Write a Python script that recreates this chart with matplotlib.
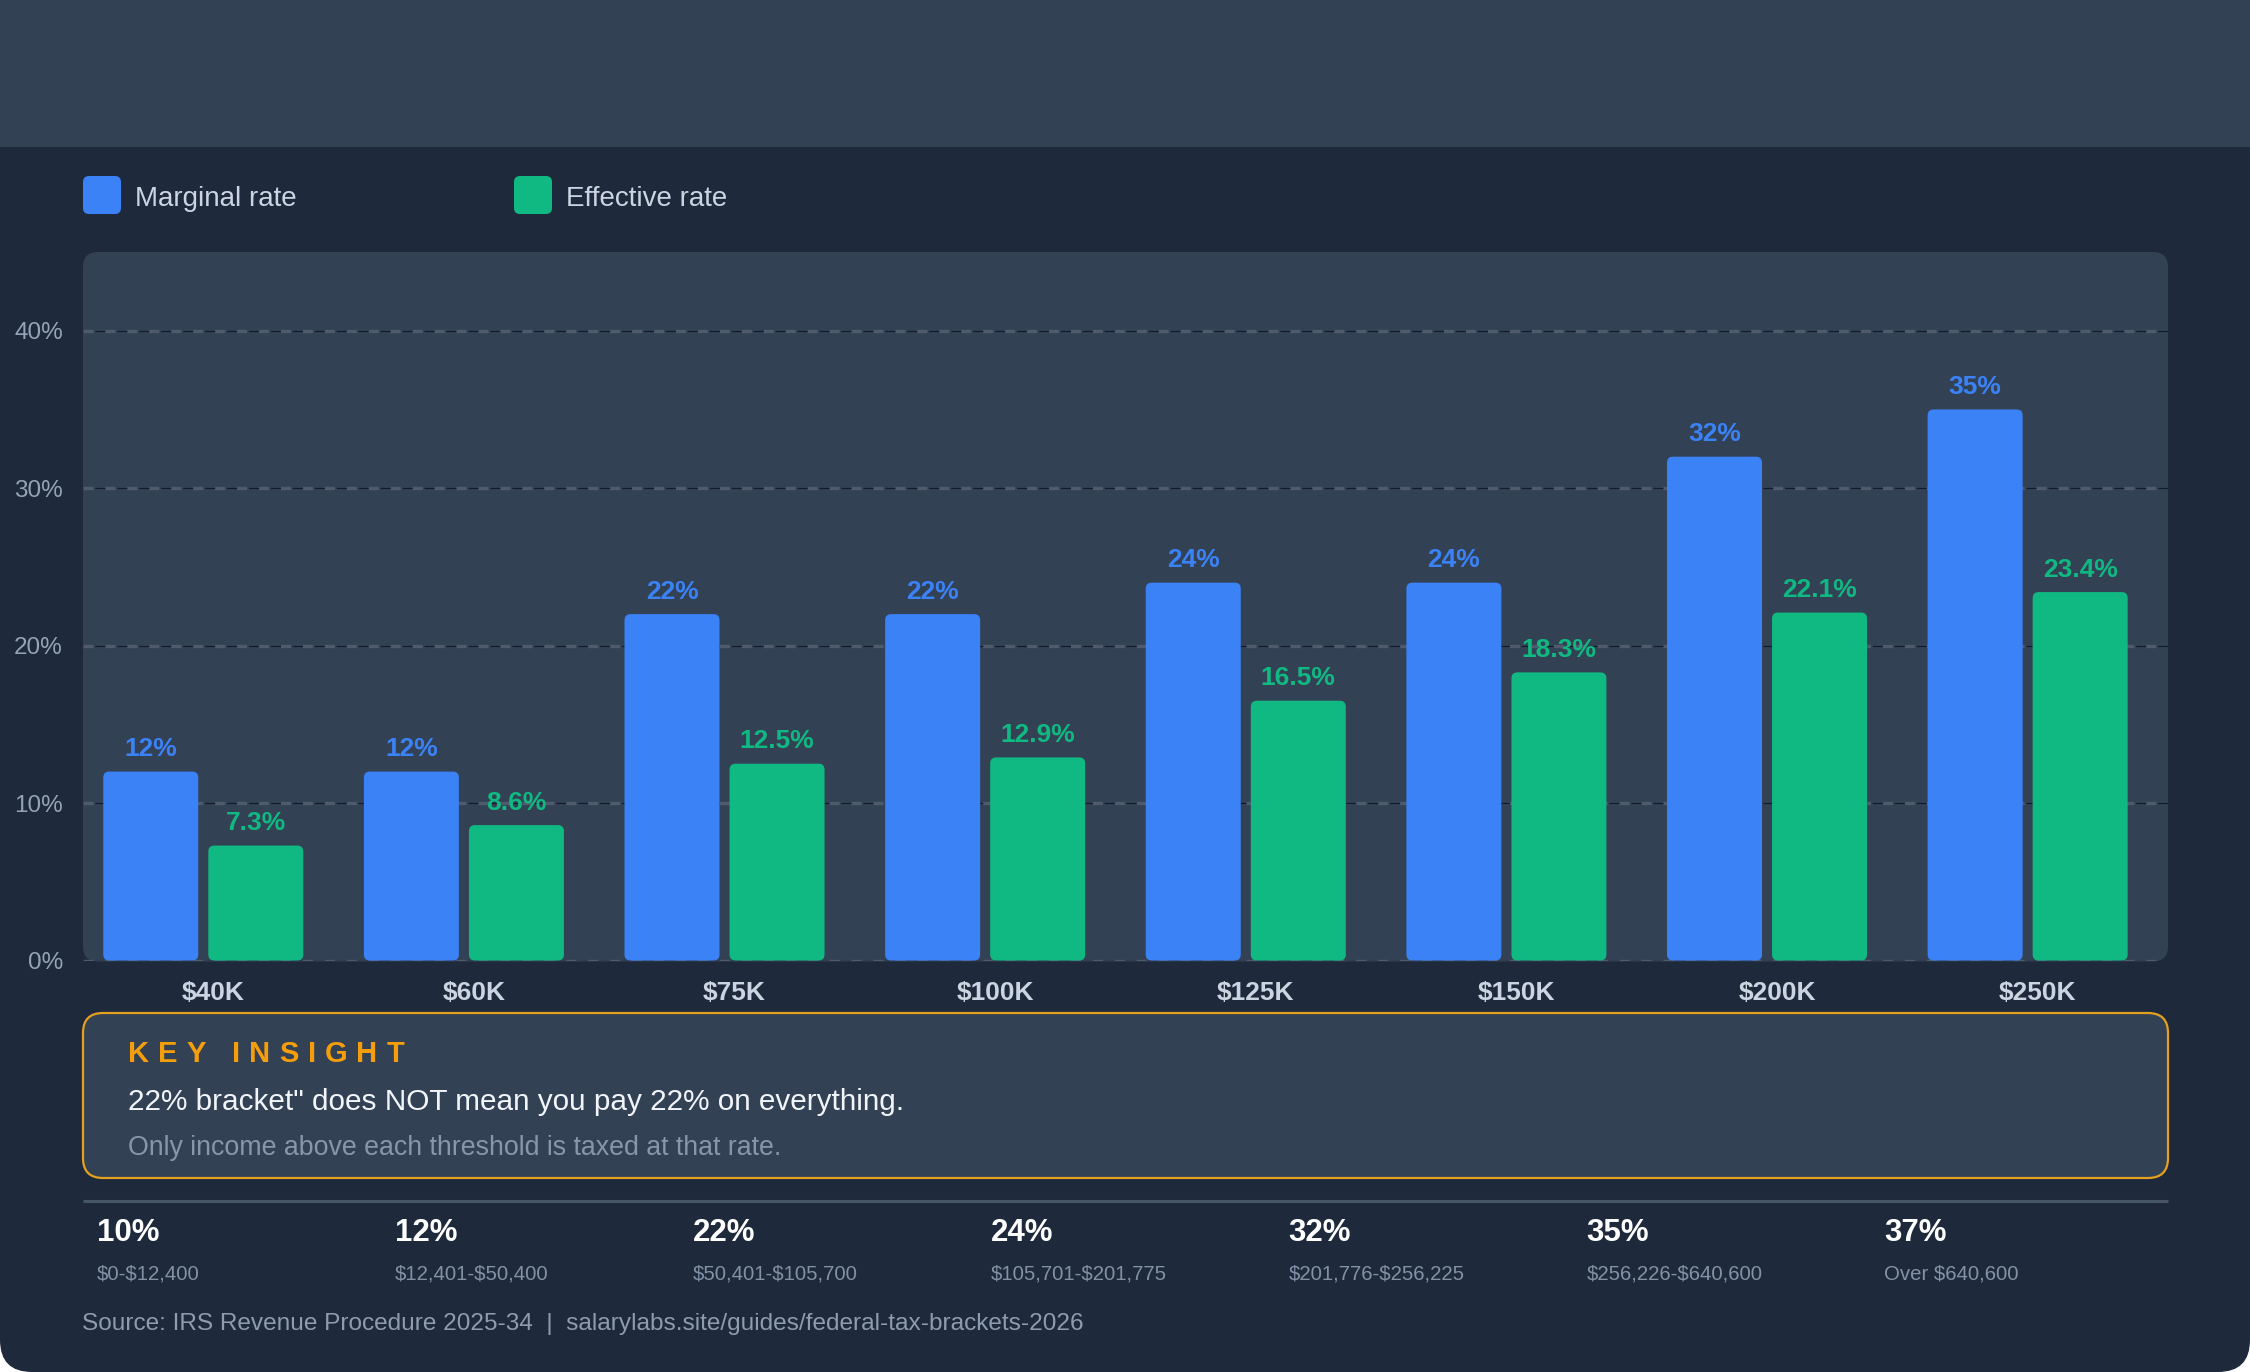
import numpy as np
import matplotlib
matplotlib.use("Agg")
import matplotlib.pyplot as plt
from matplotlib.patches import FancyBboxPatch, Rectangle

# --- DATA ---
income_labels = ["$40K", "$60K", "$75K", "$100K", "$125K", "$150K", "$200K", "$250K"]
marginal_rate = [12, 12, 22, 22, 24, 24, 32, 35]
effective_rate = [7.3, 8.6, 12.5, 12.9, 16.5, 18.3, 22.1, 23.4]
y_ticks = [0, 10, 20, 30, 40]

bracket_rates = ["10%", "12%", "22%", "24%", "32%", "35%", "37%"]
bracket_ranges = ["$0-$12,400", "$12,401-$50,400", "$50,401-$105,700",
                  "$105,701-$201,775", "$201,776-$256,225", "$256,226-$640,600",
                  "Over $640,600"]

legend_labels = ["Marginal rate", "Effective rate"]
insight_title = "KEY INSIGHT"
insight_main = '22% bracket" does NOT mean you pay 22% on everything.'
insight_sub = "Only income above each threshold is taxed at that rate."
source_text = "Source: IRS Revenue Procedure 2025-34  |  salarylabs.site/guides/federal-tax-brackets-2026"

# --- STYLE ---
W, H = 2250, 1372
BG = "#1e293b"
PANEL = "#334155"
BLUE = "#3b82f6"
GREEN = "#10b981"
ORANGE = "#f59e0b"
plt.rcParams['font.family'] = ['Liberation Sans', 'DejaVu Sans']
plt.rcParams['lines.scale_dashes'] = False
plt.rcParams['text.parse_math'] = False

fig = plt.figure(figsize=(W / 100, H / 100), dpi=100, facecolor="white")

# background layer in pixel coordinates (y down)
bg = fig.add_axes([0, 0, 1, 1], zorder=0)
bg.set_xlim(0, W)
bg.set_ylim(H, 0)
bg.axis("off")

bg.add_patch(FancyBboxPatch((0, -100), W, H + 100, boxstyle="round,pad=0,rounding_size=32",
                            fc=BG, ec="none"))
bg.add_patch(Rectangle((0, 0), W, 146.5, fc=PANEL, ec="none"))

# plot panel
PL, PR, PT, PB = 83, 2168, 252, 960.5
bg.add_patch(FancyBboxPatch((PL, PT), PR - PL, PB - PT + 1, boxstyle="round,pad=0,rounding_size=15",
                            fc=PANEL, ec="none"))

# legend
for i, (lab, col) in enumerate(zip(legend_labels, [BLUE, GREEN])):
    x0 = 83 + i * 431
    bg.add_patch(FancyBboxPatch((x0, 176), 38, 38, boxstyle="round,pad=0,rounding_size=6",
                                fc=col, ec="none"))
    bg.text(x0 + 52, 206, lab, fontsize=20, color="#cbd5e1", va="baseline", ha="left")

# --- CHART ---
ax = fig.add_axes([PL / W, 1 - PB / H, (PR - PL) / W, (PB - PT) / H], zorder=1)
ax.set_facecolor("none")
ax.set_xlim(-0.5, len(income_labels) - 0.5)
ax.set_ylim(0, 45)
for s in ax.spines.values():
    s.set_visible(False)

for v in y_ticks:
    ax.axhline(v, color="#0f172a", lw=0.8, linestyle=(7.2, (8.6, 7.2)), zorder=1, alpha=0.9)
    ax.axhline(v, color="#4f5b6d", lw=2.4, dashes=(7.2, 8.6), zorder=1.1)

x = np.arange(len(income_labels))
bw = 0.3645
b1 = ax.bar(x - 0.240, marginal_rate, width=bw, color=BLUE, zorder=2)
b2 = ax.bar(x + 0.163, effective_rate, width=bw, color=GREEN, zorder=2)

px_x = (PR - PL) / len(income_labels)
px_y = (PB - PT) / 45
r_px = 6
for bars in (b1, b2):
    for b in bars:
        p = FancyBboxPatch((b.get_x(), b.get_y()), b.get_width(), b.get_height(),
                           boxstyle=f"round,pad=0,rounding_size={r_px / px_x}",
                           mutation_aspect=px_x / px_y,
                           fc=b.get_facecolor(), ec="none", zorder=2)
        b.remove()
        ax.add_patch(p)

for xs, vals, col in ((x - 0.240, marginal_rate, BLUE), (x + 0.163, effective_rate, GREEN)):
    for xi, v in zip(xs, vals):
        lab = f"{v:g}%"
        ax.annotate(lab, (xi, v), xytext=(0, 11), textcoords="offset points",
                    ha="center", va="baseline", fontsize=19, fontweight="bold", color=col)

ax.set_yticks(y_ticks)
ax.set_yticklabels([f"{v}%" for v in y_ticks], fontsize=17.5, color="#94a3b8")
ax.set_xticks(x)
ax.set_xticklabels(income_labels, fontsize=19, fontweight="bold", color="#cbd5e1")
ax.tick_params(axis="y", length=0, pad=14.5)
ax.tick_params(axis="x", length=0, pad=14.5)

# --- KEY INSIGHT BOX ---
bg.add_patch(FancyBboxPatch((83, 1013), 2168 - 83, 1178 - 1013,
                            boxstyle="round,pad=0,rounding_size=20",
                            fc=PANEL, ec="#e6a020", lw=1.6))

fig.canvas.draw()
renderer = fig.canvas.get_renderer()
cx = 128
gap = 9.0
for ch in insight_title:
    if ch == " ":
        cx += 8.1 + gap
        continue
    t = bg.text(cx, 1062, ch, fontsize=21, fontweight="bold", color=ORANGE,
                va="baseline", ha="left")
    cx += t.get_window_extent(renderer).width + gap

bg.text(128, 1110, insight_main, fontsize=21.4, color="#f1f5f9", va="baseline", ha="left")
bg.text(128, 1155, insight_sub, fontsize=19.3, color="#8796ab", va="baseline", ha="left")

# separator
bg.plot([83, 2168], [1201, 1201], color="#475569", lw=2.2, solid_capstyle="butt")

# bracket row
col_w = (2168 - 83) / len(bracket_rates)
for i, (rate, rng) in enumerate(zip(bracket_rates, bracket_ranges)):
    x0 = 83 + 14 + i * col_w
    bg.text(x0, 1241, rate, fontsize=22.5, fontweight="bold", color="white", va="baseline")
    bg.text(x0, 1279, rng, fontsize=14.7, color="#8391a7", va="baseline")

bg.text(82, 1330, source_text, fontsize=17.6, color="#8e9bb0", va="baseline")

fig.savefig("out.png", dpi=100, facecolor=fig.get_facecolor())
